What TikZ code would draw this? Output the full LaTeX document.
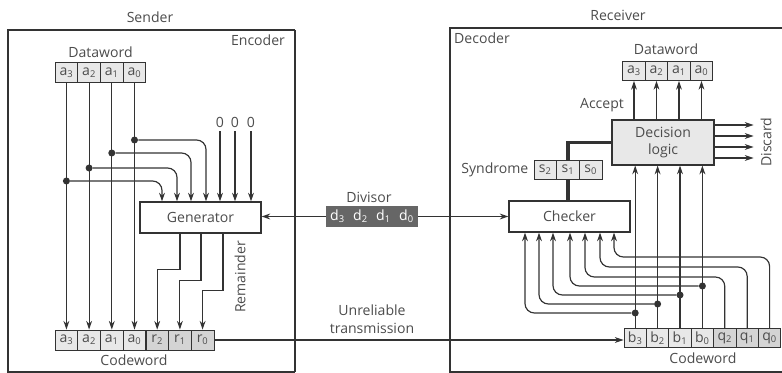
\documentclass[tikz,border=0pt]{standalone}
\usepackage{fontspec}
\setmainfont{Open Sans}
\usetikzlibrary{arrows.meta, positioning}
\definecolor{linegray}{rgb}{0.2, 0.2, 0.2}
\definecolor{textgray}{rgb}{0.3, 0.3, 0.3}
\definecolor{cellfill}{rgb}{0.91, 0.91, 0.91}
\definecolor{remfill}{rgb}{0.83, 0.83, 0.83}
\definecolor{divfill}{rgb}{0.4, 0.4, 0.4}

\begin{document}
\begin{tikzpicture}[
			x=0.03cm, y=-0.03cm,
			every node/.style={font=\fontsize{12}{15}\selectfont, text=textgray},
			cellbox/.style={draw=linegray, line width=0.6pt, fill=cellfill, minimum width=0.68cm, minimum height=0.6cm, inner sep=0pt},
			unitbox/.style={draw=linegray, line width=0.9pt, fill=white, minimum width=3.63cm, minimum height=0.93cm},
			arrowstyle/.style={-{Stealth[length=7.5pt, width=5pt]}, line width=1pt, linegray},
			wire/.style={line width=0.9pt, linegray},
			dot/.style={circle, fill=linegray, inner sep=0pt, minimum size=6pt}
		]
		\useasboundingbox (0,0) rectangle (782,373);
		% sender side
		\node at (150,17) {Sender};
		\draw[wire] (295,30) -- (8,30) -- (8,372) -- (295,372);
		\draw[line width=1.8pt, linegray] (295,30) -- (295,372);
		\node at (258,40) {Encoder};
		\node at (100.5,52) {Dataword};
		\foreach \n/\x in {3/66.4, 2/89.1, 1/111.8, 0/134.5}
			\node[cellbox] (sa\n) at (\x,72.5) {a\textsubscript{\n}};
		\foreach \n/\x in {3/66.4, 2/89.1, 1/111.8, 0/134.5}
			\node[cellbox] (sc\n) at (\x,340) {a\textsubscript{\n}};
		\foreach \n/\x in {2/157.2, 1/179.9, 0/202.6}
			\node[cellbox, fill=remfill] (sr\n) at (\x,340) {r\textsubscript{\n}};
		\node at (134,360) {Codeword};
		\node[unitbox] (gen) at (200.5,217.5) {Generator};
		\foreach \n in {3,2,1,0}
			\draw[arrowstyle] (sa\n.south) -- (sc\n.north);
		\foreach \n/\y/\x in {0/140/206, 1/153/191, 2/168/177, 3/181/162} {
			\node[dot] (ja\n) at (sa\n |- 0,\y) {};
			\draw[arrowstyle, rounded corners=8] (ja\n) -| (gen.north -| \x,0);
		}
		\foreach \n/\x in {1/220, 2/235, 3/251} {
			\node (z\n) at (\x,122) {0};
			\draw[arrowstyle] (z\n) -- (z\n |- gen.north);
		}
		\draw[arrowstyle] (gen.south -| 180,0) -- ++(0,36) -| (sr2.north);
		\draw[arrowstyle] (gen.south -| 201,0) -- ++(0,47) -| (sr1.north);
		\draw[arrowstyle] (gen.south -| 223,0) -- ++(0,57) -| (sr0.north);
		\node[rotate=90] at (240,277) {Remainder};

		% divisor and channel
		\node at (369,197) {Divisor};
		\foreach \n/\x in {3/337.5, 2/360.5, 1/383.5, 0/406.5}
			\node[cellbox, fill=divfill, draw=divfill, text=white] (dv\n) at (\x,216.5) {d\textsubscript{\n}};
		\node[align=center] at (372,319.5) {Unreliable\\transmission};

		% receiver side
		\node at (618,15) {Receiver};
		\draw[wire] (782,28) -- (450,28) -- (450,372) -- (782,372);
		\node at (482,38) {Decoder};
		\node at (666,49) {Dataword};
		\foreach \n/\x in {3/634, 2/656.5, 1/679, 0/701.5}
			\node[cellbox, minimum width=0.675cm, minimum height=0.57cm] (rd\n) at (\x,71) {a\textsubscript{\n}};
		\node[unitbox, fill=cellfill, minimum width=3.06cm, minimum height=1.35cm, align=center] (dl) at (663,142.5) {Decision\\logic};
		\node at (602,105) {Accept};
		\foreach \n/\x in {2/545.3, 1/568, 0/590.7}
			\node[cellbox, minimum height=0.57cm] (rs\n) at (\x,170) {s\textsubscript{\n}};
		\node[left=1pt of rs2] {Syndrome};
		\node[unitbox] (chk) at (569.5,216.5) {Checker};
		\foreach \n/\x in {3/635.2, 2/657.6, 1/680, 0/702.4}
			\node[cellbox, minimum width=0.672cm, minimum height=0.57cm] (rb\n) at (\x,338) {b\textsubscript{\n}};
		\foreach \n/\x in {2/724.8, 1/747.2, 0/769.6}
			\node[cellbox, fill=remfill, minimum width=0.672cm, minimum height=0.57cm] (rq\n) at (\x,338) {q\textsubscript{\n}};
		\node at (703,358) {Codeword};
		\foreach \n in {3,2,1,0} {
			\draw[arrowstyle] (dl.north -| rd\n) -- (rd\n.south);
			\draw[arrowstyle] (rb\n.north) -- (rb\n.north |- dl.south);
		}
		\foreach \y in {125,136,147,158}
			\draw[arrowstyle] (dl.east |- 0,\y) -- ++(39,0);
		\node[rotate=90] at (766,142) {Discard};
		\draw[line width=2.6pt, linegray] (rs1.north) |- (dl.west);
		\draw[line width=2.6pt, linegray] (rs1.south) -- (rs1.south |- chk.north);
		\foreach \n/\y/\x in {3/313/525, 2/304/539, 1/295/553, 0/286/570} {
			\node[dot] (jb\n) at (rb\n |- 0,\y) {};
			\draw[arrowstyle, rounded corners=8] (jb\n) -| (chk.south -| \x,0);
		}
		\foreach \n/\y/\x in {2/277/585, 1/267/600, 0/257/614}
			\draw[arrowstyle, rounded corners=8] (rq\n.north) -- (rq\n.north |- 0,\y) -| (chk.south -| \x,0);

		% connections between the two sides
		\draw[arrowstyle] (dv3.west) -- (gen.east |- dv3.west);
		\draw[arrowstyle] (dv0.east) -- (chk.west |- dv0.east);
		\draw[arrowstyle] (sr0.east) -- (rb3.west |- sr0.east);
	\end{tikzpicture}
\end{document}
